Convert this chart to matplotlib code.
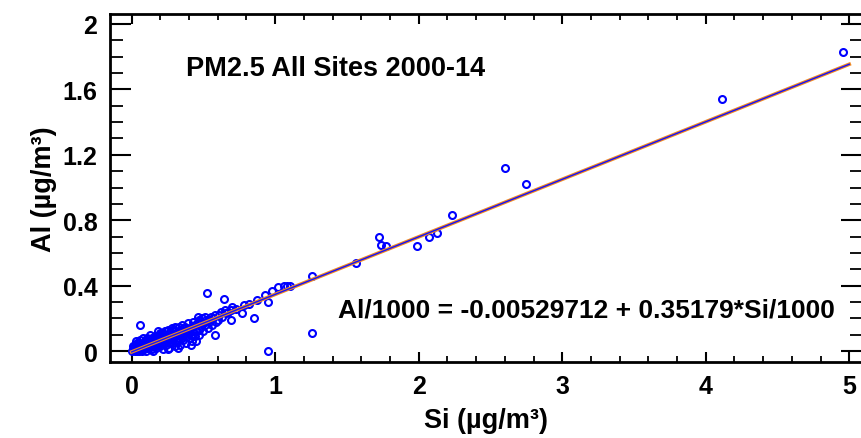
import matplotlib
matplotlib.use('Agg')
import matplotlib.pyplot as plt
from matplotlib.ticker import MultipleLocator, FuncFormatter

plt.rcParams['font.family'] = ['Liberation Sans', 'DejaVu Sans']
plt.rcParams['font.weight'] = 'bold'

# Si / Al concentrations (ug/m3), PM2.5, all sites
si = [0.00, 0.01, 0.02, 0.02, 0.03, 0.03, 0.03, 0.04, 0.04, 0.05, 0.05, 0.05,
      0.06, 0.06, 0.07, 0.07, 0.08, 0.08, 0.08, 0.09, 0.09, 0.10, 0.10, 0.11,
      0.12, 0.12, 0.13, 0.13, 0.14, 0.14, 0.15, 0.15, 0.15, 0.16, 0.17, 0.17,
      0.18, 0.18, 0.18, 0.19, 0.20, 0.20, 0.21, 0.22, 0.22, 0.23, 0.24, 0.24,
      0.25, 0.25, 0.25, 0.26, 0.26, 0.27, 0.28, 0.28, 0.28, 0.29, 0.30, 0.30,
      0.31, 0.32, 0.32, 0.32, 0.33, 0.34, 0.34, 0.35, 0.35, 0.36, 0.36, 0.37,
      0.38, 0.38, 0.39, 0.40, 0.40, 0.41, 0.41, 0.42, 0.42, 0.43, 0.44, 0.44,
      0.45, 0.45, 0.46, 0.46, 0.47, 0.48, 0.49, 0.50, 0.50, 0.52, 0.525, 0.53,
      0.55, 0.56, 0.58, 0.58, 0.59, 0.60, 0.62, 0.63, 0.64, 0.66, 0.69, 0.69,
      0.70, 0.73, 0.77, 0.78, 0.82, 0.85, 0.87, 0.93, 0.95, 0.95, 0.98, 1.02,
      1.06, 1.08, 1.10, 1.26, 1.26, 1.56, 1.72, 1.74, 1.77, 1.99, 2.07, 2.13,
      2.23, 2.60, 2.75, 4.11, 4.96,
      0.01, 0.02, 0.04, 0.06, 0.07, 0.09, 0.11, 0.11, 0.13, 0.16, 0.16, 0.19,
      0.19, 0.21, 0.21, 0.23, 0.23, 0.26, 0.27, 0.27, 0.29, 0.29, 0.31, 0.31,
      0.33, 0.33, 0.35, 0.37, 0.37, 0.39, 0.39, 0.43, 0.43, 0.47, 0.47, 0.51,
      0.51, 0.54, 0.57, 0.61, 0.65, 0.67, 0.10, 0.14, 0.20, 0.24, 0.30, 0.36,
      0.48, 0.54]
al = [0.00, 0.01, 0.00, 0.02, 0.01, 0.03, 0.06, 0.00, 0.02, 0.01, 0.04, 0.00,
      0.02, 0.16, 0.00, 0.03, 0.01, 0.04, 0.08, 0.02, 0.06, 0.03, 0.00, 0.05,
      0.02, 0.07, 0.04, 0.10, 0.01, 0.06, 0.03, 0.08, 0.00, 0.05, 0.02, 0.07,
      0.04, 0.09, 0.12, 0.06, 0.03, 0.08, 0.05, 0.10, 0.01, 0.07, 0.04, 0.09,
      0.06, 0.01, 0.13, 0.11, 0.02, 0.08, 0.05, 0.10, 0.14, 0.07, 0.12, 0.03,
      0.09, 0.06, 0.11, 0.02, 0.08, 0.13, 0.04, 0.10, 0.16, 0.07, 0.12, 0.09,
      0.14, 0.05, 0.11, 0.08, 0.13, 0.10, 0.04, 0.15, 0.06, 0.12, 0.09, 0.16,
      0.13, 0.06, 0.18, 0.21, 0.10, 0.15, 0.20, 0.12, 0.17, 0.19, 0.355, 0.14,
      0.21, 0.16, 0.22, 0.10, 0.18, 0.19, 0.24, 0.21, 0.32, 0.23, 0.25, 0.19,
      0.27, 0.26, 0.23, 0.28, 0.29, 0.20, 0.31, 0.34, 0.30, 0.00, 0.37, 0.39,
      0.40, 0.40, 0.40, 0.46, 0.11, 0.54, 0.70, 0.65, 0.64, 0.64, 0.70, 0.72,
      0.83, 1.12, 1.02, 1.54, 1.83,
      0.03, 0.04, 0.05, 0.07, 0.05, 0.04, 0.08, 0.02, 0.07, 0.09, 0.03, 0.10,
      0.04, 0.07, 0.11, 0.05, 0.12, 0.08, 0.05, 0.11, 0.09, 0.13, 0.06, 0.11,
      0.10, 0.15, 0.08, 0.11, 0.15, 0.13, 0.17, 0.10, 0.18, 0.13, 0.19, 0.16,
      0.21, 0.18, 0.20, 0.22, 0.25, 0.24, 0.06, 0.08, 0.11, 0.12, 0.15, 0.14,
      0.18, 0.19]

# regression line Al = a + b*Si
intercept = -0.00529712
slope = 0.35179
fit_si = [0.0, 5.0]
fit_al = [intercept + slope * v for v in fit_si]

fig = plt.figure(figsize=(8.62, 4.39), dpi=100)
ax = fig.add_axes([110 / 862, 76 / 439, 752 / 862, 348 / 439])

ax.plot(si, al, 'o', mfc='none', mec='#0000FF', ms=5.0, mew=1.5, zorder=2)
ax.plot(fit_si, fit_al, color='#F08A24', lw=2.6, zorder=3)
ax.plot(fit_si, fit_al, color='#1010FF', lw=1.0, zorder=4)

ax.set_xlim(-0.151, 5.089)
ax.set_ylim(-0.067, 2.061)

ax.xaxis.set_major_locator(MultipleLocator(1))
ax.xaxis.set_minor_locator(MultipleLocator(0.2))
ax.yaxis.set_major_locator(MultipleLocator(0.4))
ax.yaxis.set_minor_locator(MultipleLocator(0.1))
ax.yaxis.set_major_formatter(FuncFormatter(lambda v, p: f'{v:g}'))

ax.tick_params(axis='x', which='major', direction='in', length=7, width=1.5,
               top=True, labelsize=18, pad=9)
ax.tick_params(axis='x', which='minor', direction='in', length=4, width=1.3,
               top=True)
ax.tick_params(axis='y', which='major', direction='in', length=15, width=1.5,
               right=True, labelsize=18, pad=9)
ax.tick_params(axis='y', which='minor', direction='in', length=9, width=1.3,
               right=True)
for lab in ax.get_xticklabels() + ax.get_yticklabels():
    lab.set_fontweight('bold')

for s in ['left', 'bottom', 'top']:
    ax.spines[s].set_linewidth(2)
ax.spines['right'].set_visible(False)

ax.set_xlabel('Si (µg/m³)', fontsize=19.5, fontweight='bold', labelpad=6)
ax.set_ylabel('Al (µg/m³)', fontsize=19.5, fontweight='bold', labelpad=4)

ax.text(186, 439 - 76, 'PM2.5 All Sites 2000-14', transform=None,
        fontsize=19.5, fontweight='bold', va='baseline', ha='left')
ax.text(338, 439 - 318, 'Al/1000 = -0.00529712 + 0.35179*Si/1000',
        transform=None, fontsize=19, fontweight='bold', va='baseline',
        ha='left')

fig.savefig('out.png', dpi=100)
